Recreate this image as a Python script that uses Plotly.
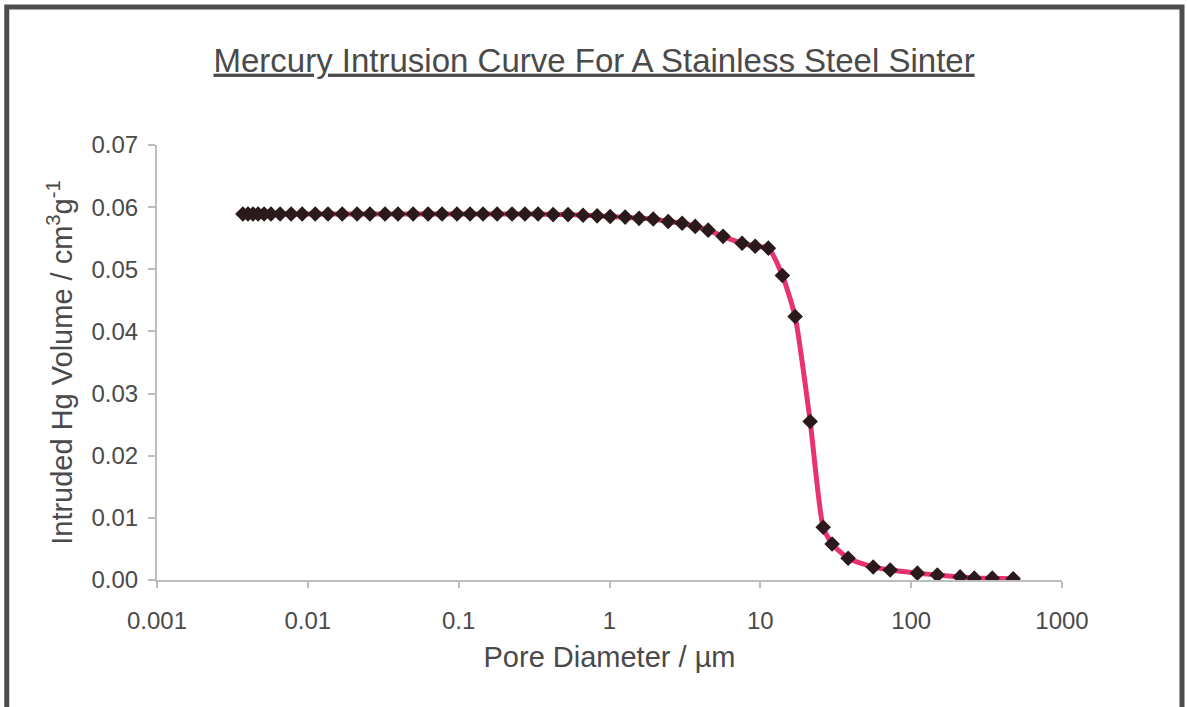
import plotly.graph_objects as go

# Pore diameter (µm) and intruded Hg volume (cm3/g)
pore_diameter = [
    0.00371, 0.00401, 0.00433, 0.00468, 0.00513, 0.00570, 0.00655, 0.00775,
    0.00917, 0.0112, 0.0136, 0.0169, 0.0212, 0.0258, 0.0325, 0.0396, 0.0499,
    0.0627, 0.0776, 0.0975, 0.119, 0.145, 0.180, 0.226, 0.275, 0.336, 0.423,
    0.531, 0.668, 0.828, 1.01, 1.27, 1.57, 1.95, 2.45, 3.03, 3.70, 4.51, 5.66,
    7.57, 9.24, 11.3, 14.0, 17.0, 21.4, 26.1, 29.9, 38.2, 56.0, 72.6, 110,
    149, 211, 262, 345, 475,
]
intruded_volume = [
    0.0589, 0.0589, 0.0589, 0.0589, 0.0589, 0.0589, 0.0589, 0.0589,
    0.0589, 0.0589, 0.0589, 0.0589, 0.0589, 0.0589, 0.0589, 0.0589, 0.0589,
    0.0589, 0.0589, 0.0589, 0.0589, 0.0589, 0.0589, 0.0589, 0.0589, 0.0589, 0.0588,
    0.0588, 0.0587, 0.0586, 0.0585, 0.0584, 0.0582, 0.0581, 0.0577, 0.0574, 0.0569, 0.0563, 0.0553,
    0.0542, 0.0537, 0.0534, 0.0490, 0.0424, 0.0255, 0.0085, 0.0058, 0.0035, 0.0021, 0.0016, 0.0011,
    0.0008, 0.0005, 0.0003, 0.0003, 0.0002,
]

x_tick_values = [0.001, 0.01, 0.1, 1, 10, 100, 1000]
x_tick_labels = ["0.001", "0.01", "0.1", "1", "10", "100", "1000"]
y_tick_values = [0.00, 0.01, 0.02, 0.03, 0.04, 0.05, 0.06, 0.07]

title_text = "Mercury Intrusion Curve For A Stainless Steel Sinter"
x_title = "Pore Diameter / µm"
y_title = "Intruded Hg Volume / cm<sup>3</sup>g<sup>-1</sup>"

FONT = "Liberation Sans, Arial, sans-serif"
TEXT = "#4a4a4a"

fig = go.Figure()
fig.add_trace(go.Scatter(
    x=pore_diameter, y=intruded_volume, mode="lines+markers",
    line=dict(color="#e8336f", width=5, shape="spline", smoothing=0.6),
    marker=dict(symbol="diamond", size=12, color="#2b1a1c"),
    showlegend=False,
))

fig.update_layout(
    width=1187, height=707,
    margin=dict(l=157, r=125, t=145, b=127),
    paper_bgcolor="white", plot_bgcolor="white",
    font=dict(family=FONT, color=TEXT, size=24),
    title=dict(text="<u>" + title_text + "</u>", x=0.5005, xref="container",
               xanchor="center", y=0.915, yanchor="middle",
               font=dict(size=33, color=TEXT, family=FONT)),
    xaxis=dict(
        type="log", range=[-3, 3],
        tickvals=x_tick_values, ticktext=x_tick_labels,
        showgrid=False, zeroline=False,
        showline=True, linecolor="#bdbdbd", linewidth=2,
        ticks="outside", ticklen=6, tickcolor="#bdbdbd", tickwidth=2,
        ticklabelstandoff=12,
        tickfont=dict(size=24, color=TEXT, family=FONT),
        title=dict(text=x_title, font=dict(size=29, color=TEXT, family=FONT), standoff=14),
    ),
    yaxis=dict(
        range=[0, 0.07], tickvals=y_tick_values, tickformat=".2f",
        showgrid=False, zeroline=False,
        showline=True, linecolor="#bdbdbd", linewidth=2,
        ticks="outside", ticklen=7, tickcolor="#bdbdbd", tickwidth=2,
        ticklabelstandoff=5,
        tickfont=dict(size=24, color=TEXT, family=FONT),
        title=dict(text=y_title, font=dict(size=29, color=TEXT, family=FONT), standoff=10),
    ),
    shapes=[dict(type="rect", xref="paper", yref="paper",
                 x0=-0.166, x1=1.1326, y0=-0.4, y1=1.317,
                 line=dict(color="#4d4d4d", width=5))],
)

fig.write_html("out.html")
